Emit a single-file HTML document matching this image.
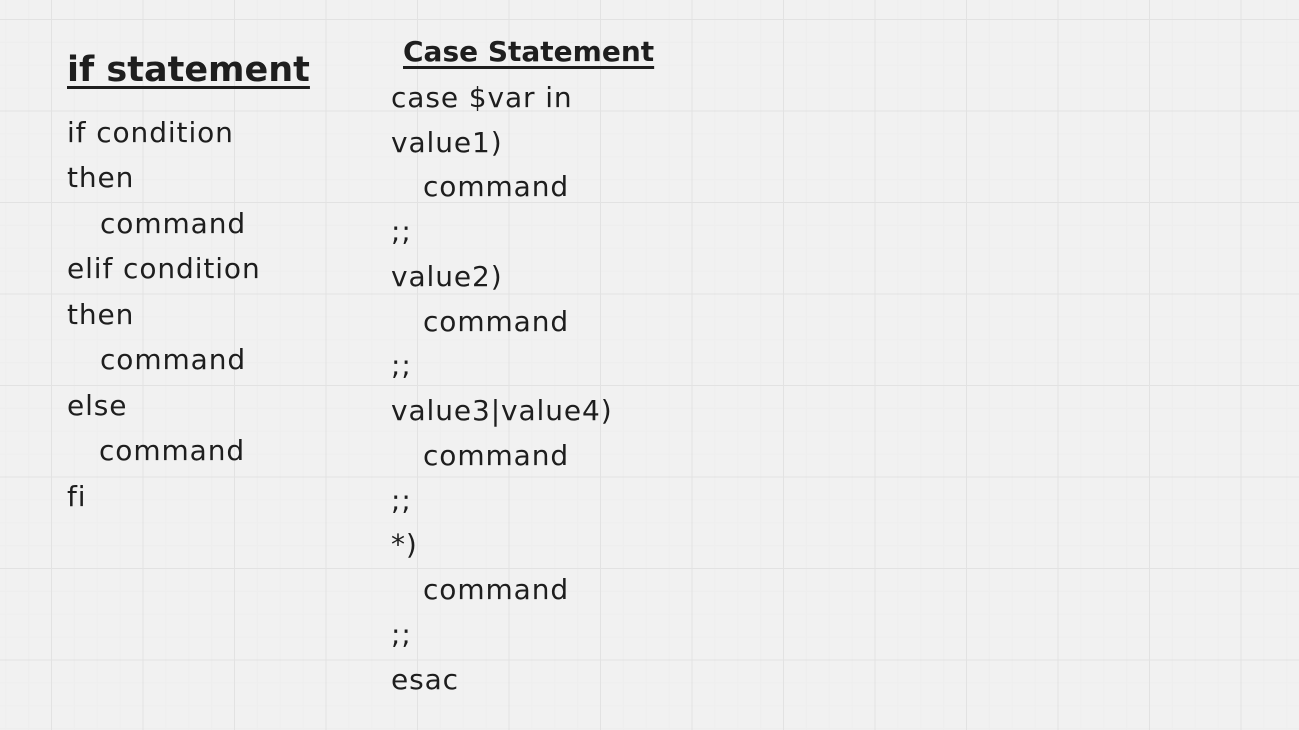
<!DOCTYPE html>
<html><head><style>
html,body{margin:0;padding:0;}
body{width:1299px;height:730px;overflow:hidden;position:relative;background-color:#f1f1f1;
background-image:
linear-gradient(to right,#e2e2e2 1px,transparent 1px),
linear-gradient(to bottom,#e2e2e2 1px,transparent 1px),
linear-gradient(to right,#eeeeee 1px,transparent 1px),
linear-gradient(to bottom,#eeeeee 1px,transparent 1px);
background-size:91.5px 91.5px,91.5px 91.5px,22.875px 22.875px,22.875px 22.875px;
background-position:51px 0,0 19px,51px 0,0 19px;
font-family:"DejaVu Sans",sans-serif;color:#1e1e1e;}
.t{position:absolute;white-space:pre;font-size:28px;line-height:34px;letter-spacing:0.9px;}
.h{position:absolute;white-space:pre;font-weight:bold;text-decoration:underline;text-decoration-thickness:3px;text-underline-offset:5px;}
</style></head><body>
<div class="h" style="left:67px;top:50px;font-size:35px;">if statement</div>
<div class="h" style="left:403px;top:35px;font-size:28px;">Case Statement</div>
<div class="t" style="left:67px;top:116px;">if condition</div>
<div class="t" style="left:67px;top:161px;">then</div>
<div class="t" style="left:100px;top:207px;">command</div>
<div class="t" style="left:67px;top:252px;">elif condition</div>
<div class="t" style="left:67px;top:298px;">then</div>
<div class="t" style="left:100px;top:343px;">command</div>
<div class="t" style="left:67px;top:389px;">else</div>
<div class="t" style="left:99px;top:434px;">command</div>
<div class="t" style="left:67px;top:480px;">fi</div>

<div class="t" style="left:391px;top:81px;">case $var in</div>
<div class="t" style="left:391px;top:126px;">value1)</div>
<div class="t" style="left:423px;top:170px;">command</div>
<div class="t" style="left:391px;top:215px;">;;</div>
<div class="t" style="left:391px;top:260px;">value2)</div>
<div class="t" style="left:423px;top:305px;">command</div>
<div class="t" style="left:391px;top:349px;">;;</div>
<div class="t" style="left:391px;top:394px;">value3|value4)</div>
<div class="t" style="left:423px;top:439px;">command</div>
<div class="t" style="left:391px;top:484px;">;;</div>
<div class="t" style="left:391px;top:528px;">*)</div>
<div class="t" style="left:423px;top:573px;">command</div>
<div class="t" style="left:391px;top:618px;">;;</div>
<div class="t" style="left:391px;top:663px;">esac</div>
</body></html>
